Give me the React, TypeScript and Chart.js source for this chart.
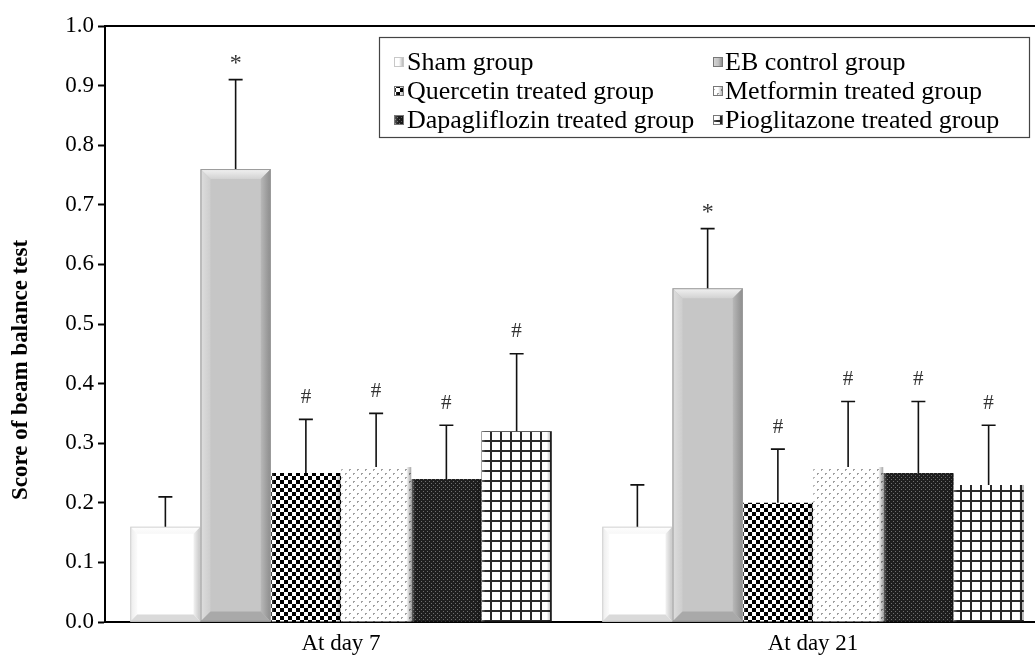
import React, { useEffect, useRef } from 'react';
import { Chart, registerables } from 'chart.js';

Chart.register(...registerables);

// ---------- data ----------
const categories = ['At day 7', 'At day 21'];
const groupNames = [
  'Sham group',
  'EB control group',
  'Quercetin treated group',
  'Metformin treated group',
  'Dapagliflozin treated group',
  'Pioglitazone treated group',
];
const shamValues = [0.16, 0.16];
const shamErrors = [0.05, 0.07];
const ebValues = [0.76, 0.56];
const ebErrors = [0.15, 0.10];
const quercetinValues = [0.25, 0.20];
const quercetinErrors = [0.09, 0.09];
const metforminValues = [0.26, 0.26];
const metforminErrors = [0.09, 0.11];
const dapagliflozinValues = [0.24, 0.25];
const dapagliflozinErrors = [0.09, 0.12];
const pioglitazoneValues = [0.32, 0.23];
const pioglitazoneErrors = [0.13, 0.10];
const shamMarks = ['', ''];
const ebMarks = ['*', '*'];
const quercetinMarks = ['#', '#'];
const metforminMarks = ['#', '#'];
const dapagliflozinMarks = ['#', '#'];
const pioglitazoneMarks = ['#', '#'];
const yAxisTitle = 'Score of beam balance test';
const yMin = 0;
const yMax = 1.0;
const yStep = 0.1;

const seriesValues = [shamValues, ebValues, quercetinValues, metforminValues, dapagliflozinValues, pioglitazoneValues];
const seriesErrors = [shamErrors, ebErrors, quercetinErrors, metforminErrors, dapagliflozinErrors, pioglitazoneErrors];
const seriesMarks = [shamMarks, ebMarks, quercetinMarks, metforminMarks, dapagliflozinMarks, pioglitazoneMarks];

// ---------- styles ----------
const FONT = '"Liberation Serif", "Times New Roman", serif';
const bevelKinds = ['sham', 'eb', 'flat', 'flat', 'flat', 'flat'];

function makePattern(ctx: CanvasRenderingContext2D, w: number, h: number, draw: (g: CanvasRenderingContext2D) => void) {
  const c = document.createElement('canvas');
  c.width = w;
  c.height = h;
  const g = c.getContext('2d') as CanvasRenderingContext2D;
  draw(g);
  return ctx.createPattern(c, 'repeat') as CanvasPattern;
}

function buildFills(ctx: CanvasRenderingContext2D) {
  const sham = '#ffffff';
  const eb = '#c6c6c6';
  const checker = makePattern(ctx, 8, 8, (g) => {
    g.fillStyle = '#ffffff';
    g.fillRect(0, 0, 8, 8);
    g.fillStyle = '#000000';
    g.fillRect(0, 0, 4, 4);
    g.fillRect(4, 4, 4, 4);
  });
  const dots = makePattern(ctx, 8, 8, (g) => {
    g.fillStyle = '#ffffff';
    g.fillRect(0, 0, 8, 8);
    g.fillStyle = '#a0a0a0';
    g.fillRect(1, 1, 2, 1);
    g.fillRect(1, 2, 1, 1);
    g.fillRect(5, 5, 2, 1);
    g.fillRect(5, 6, 1, 1);
  });
  const dark = makePattern(ctx, 4, 4, (g) => {
    g.fillStyle = '#1e1e1e';
    g.fillRect(0, 0, 4, 4);
    g.fillStyle = '#6e6e6e';
    g.fillRect(1, 1, 1, 1);
    g.fillRect(3, 3, 1, 1);
  });
  const grid = makePattern(ctx, 10, 10, (g) => {
    g.fillStyle = '#ffffff';
    g.fillRect(0, 0, 10, 10);
    g.fillStyle = '#2a2a2a';
    g.fillRect(0, 0, 2, 10);
    g.fillRect(0, 0, 10, 2);
  });
  return [sham, eb, checker, dots, dark, grid];
}

function quad(ctx: CanvasRenderingContext2D, pts: number[][], fill: any) {
  ctx.beginPath();
  ctx.moveTo(pts[0][0], pts[0][1]);
  for (let i = 1; i < pts.length; i++) ctx.lineTo(pts[i][0], pts[i][1]);
  ctx.closePath();
  ctx.fillStyle = fill;
  ctx.fill();
}

function drawBevel(ctx: CanvasRenderingContext2D, l: number, t: number, r: number, b: number, kind: string) {
  ctx.save();
  if (kind === 'eb' || kind === 'sham') {
    const s = kind === 'eb' ? 10 : 7;
    const c = kind === 'eb'
      ? { top0: '#f2f2f2', top1: '#d2d2d2', left0: '#dedede', left1: '#cdcdcd', right0: '#b8b8b8', right1: '#8c8c8c', bot: '#a9a9a9', line: '#9a9a9a' }
      : { top0: '#ffffff', top1: '#f7f7f7', left0: '#ececec', left1: '#fbfbfb', right0: '#f2f2f2', right1: '#c4c4c4', bot: '#dadada', line: '#d0d0d0' };
    let g = ctx.createLinearGradient(0, t, 0, t + s);
    g.addColorStop(0, c.top0);
    g.addColorStop(1, c.top1);
    quad(ctx, [[l, t], [r, t], [r - s, t + s], [l + s, t + s]], g);
    g = ctx.createLinearGradient(l, 0, l + s, 0);
    g.addColorStop(0, c.left0);
    g.addColorStop(1, c.left1);
    quad(ctx, [[l, t], [l + s, t + s], [l + s, b - s], [l, b]], g);
    g = ctx.createLinearGradient(r - s, 0, r, 0);
    g.addColorStop(0, c.right0);
    g.addColorStop(1, c.right1);
    quad(ctx, [[r, t], [r, b], [r - s, b - s], [r - s, t + s]], g);
    quad(ctx, [[l, b], [r, b], [r - s, b - s], [l + s, b - s]], c.bot);
    ctx.strokeStyle = c.line;
    ctx.lineWidth = 1;
    ctx.strokeRect(l + 0.5, t + 0.5, r - l - 1, b - t - 1);
  } else {
    let g = ctx.createLinearGradient(r - 5, 0, r, 0);
    g.addColorStop(0, 'rgba(0,0,0,0)');
    g.addColorStop(1, 'rgba(0,0,0,0.35)');
    ctx.fillStyle = g;
    ctx.fillRect(r - 5, t, 5, b - t);
    g = ctx.createLinearGradient(l, 0, l + 4, 0);
    g.addColorStop(0, 'rgba(255,255,255,0.35)');
    g.addColorStop(1, 'rgba(255,255,255,0)');
    ctx.fillStyle = g;
    ctx.fillRect(l, t, 4, b - t);
  }
  ctx.restore();
}

const barDecorPlugin = {
  id: 'barDecor',
  afterDatasetsDraw(chart: any) {
    const ctx = chart.ctx as CanvasRenderingContext2D;
    const yScale = chart.scales.y;
    chart.data.datasets.forEach((ds: any, i: number) => {
      const meta = chart.getDatasetMeta(i);
      meta.data.forEach((bar: any) => {
        const w = bar.width;
        drawBevel(ctx, bar.x - w / 2, bar.y, bar.x + w / 2, bar.base, bevelKinds[i]);
      });
    });
    // error bars and significance marks
    chart.data.datasets.forEach((ds: any, i: number) => {
      const meta = chart.getDatasetMeta(i);
      meta.data.forEach((bar: any, j: number) => {
        const v = seriesValues[i][j];
        const e = seriesErrors[i][j];
        const yTop = yScale.getPixelForValue(v + e);
        ctx.save();
        ctx.strokeStyle = '#111';
        ctx.lineWidth = 1.6;
        ctx.beginPath();
        ctx.moveTo(bar.x, bar.y);
        ctx.lineTo(bar.x, yTop);
        ctx.moveTo(bar.x - 7, yTop);
        ctx.lineTo(bar.x + 7, yTop);
        ctx.stroke();
        const mark = seriesMarks[i][j];
        if (mark) {
          ctx.fillStyle = '#333';
          ctx.font = mark === '*' ? `24px ${FONT}` : `21px ${FONT}`;
          ctx.textAlign = 'center';
          ctx.textBaseline = 'middle';
          ctx.fillText(mark, bar.x, yTop - (mark === '*' ? 16 : 22));
        }
        ctx.restore();
      });
    });
  },
};

const framePlugin = {
  id: 'frameAndLegend',
  afterDraw(chart: any) {
    const ctx = chart.ctx as CanvasRenderingContext2D;
    const area = chart.chartArea;
    ctx.save();
    // top frame line
    ctx.strokeStyle = '#000';
    ctx.lineWidth = 2;
    ctx.beginPath();
    ctx.moveTo(area.left - 1, area.top);
    ctx.lineTo(chart.width, area.top);
    ctx.stroke();

    // y-axis title
    ctx.save();
    ctx.translate(21, (area.top + area.bottom) / 2 + 46);
    ctx.rotate(-Math.PI / 2);
    ctx.fillStyle = '#000';
    ctx.font = `bold 23px ${FONT}`;
    ctx.textAlign = 'center';
    ctx.textBaseline = 'middle';
    ctx.fillText(yAxisTitle, 0, 0);
    ctx.restore();

    // legend box
    const lx = 379, ly = 37, lw = 650, lh = 100;
    ctx.fillStyle = '#fff';
    ctx.fillRect(lx, ly, lw, lh);
    ctx.strokeStyle = '#444';
    ctx.lineWidth = 1.2;
    ctx.strokeRect(lx + 0.5, ly + 0.5, lw, lh);
    const fills = chart.data.datasets.map((d: any) => d.backgroundColor);
    const markerX = [394, 713];
    const textX = [407, 725];
    const rowY = [62, 91, 120];
    ctx.font = `26px ${FONT}`;
    ctx.textAlign = 'left';
    ctx.textBaseline = 'middle';
    groupNames.forEach((name, k) => {
      const col = k % 2;
      const row = Math.floor(k / 2);
      const mx = markerX[col];
      const my = rowY[row] - 5;
      ctx.fillStyle = fills[k];
      ctx.fillRect(mx, my, 10, 10);
      drawBevel(ctx, mx, my, mx + 10, my + 10, 'flat');
      ctx.strokeStyle = k === 0 ? '#c8c8c8' : '#777';
      ctx.lineWidth = 1;
      ctx.strokeRect(mx + 0.5, my + 0.5, 9, 9);
      ctx.fillStyle = '#000';
      ctx.fillText(name, textX[col], rowY[row] + 1);
    });
    ctx.restore();
  },
};

export default function App() {
  const canvasRef = useRef<HTMLCanvasElement | null>(null);

  useEffect(() => {
    const canvas = canvasRef.current;
    if (!canvas) return;
    const ctx = canvas.getContext('2d') as CanvasRenderingContext2D;
    const fills = buildFills(ctx);
    const chart = new Chart(ctx, {
      type: 'bar',
      data: {
        labels: categories,
        datasets: groupNames.map((name, i) => ({
          label: name,
          data: seriesValues[i],
          backgroundColor: fills[i],
          borderWidth: 0,
          barPercentage: 1,
          categoryPercentage: 0.893,
        })),
      },
      options: {
        responsive: false,
        animation: false,
        devicePixelRatio: 1,
        layout: { padding: { top: 26, right: 1, left: 0, bottom: 0 } },
        plugins: {
          legend: { display: false },
          tooltip: { enabled: false },
          title: { display: false },
        },
        scales: {
          x: {
            grid: { display: true, drawOnChartArea: false, drawTicks: false },
            border: { display: true, color: '#000', width: 2 },
            ticks: { color: '#000', font: { family: FONT, size: 23 }, padding: 8 },
            afterFit: (scale: any) => { scale.height = 38; },
          },
          y: {
            min: yMin,
            max: yMax,
            grid: { display: true, drawOnChartArea: false, drawTicks: true, tickLength: 7, tickColor: '#000', tickWidth: 2 },
            border: { display: true, color: '#000', width: 2 },
            ticks: {
              stepSize: yStep,
              color: '#000',
              font: { family: FONT, size: 23 },
              padding: 4,
              callback: (v: any) => Number(v).toFixed(1),
            },
            afterFit: (scale: any) => { scale.width = 105; },
          },
        },
      },
      plugins: [barDecorPlugin, framePlugin],
    });
    return () => chart.destroy();
  }, []);

  return (
    <div style={{ position: 'fixed', left: 0, top: 0, width: 1035, height: 660, overflow: 'hidden', background: '#fff' }}>
      <canvas ref={canvasRef} width={1050} height={660} style={{ display: 'block' }} />
    </div>
  );
}
